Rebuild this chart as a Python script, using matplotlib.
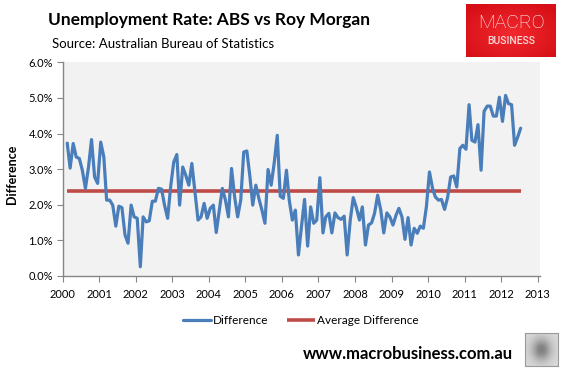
import matplotlib
matplotlib.use("Agg")
import matplotlib.pyplot as plt
from matplotlib.patches import Rectangle
from matplotlib.ticker import FuncFormatter
import numpy as np
import pandas as pd

# ---- data (monthly, Feb 2000 - Jul 2012), % difference ----
diff_2000_2003 = [3.73, 3.03, 3.72, 3.34, 3.30, 2.97, 2.46, 3.06, 3.83, 2.78, 2.60, 3.76,
                  3.34, 2.13, 2.13, 1.99, 1.40, 1.96, 1.92, 1.15, 0.92, 1.99, 1.66, 1.62,
                  0.26, 1.66, 1.52, 1.55, 2.10, 2.10, 2.46, 2.44, 1.99, 1.62, 2.50, 3.20,
                  3.41, 1.99, 3.06, 2.83, 2.55, 3.16, 2.36, 1.57, 1.66, 2.04, 1.62, 1.90]
diff_2004_2007 = [1.99, 1.22, 1.85, 2.46, 2.13, 1.66, 3.02, 2.22, 1.66, 2.13, 3.48, 3.51,
                  2.78, 1.99, 2.55, 2.18, 1.85, 1.48, 2.99, 2.55, 3.16, 3.95, 2.24, 2.18,
                  2.97, 2.13, 1.57, 1.85, 0.59, 1.38, 2.15, 0.84, 1.94, 1.48, 1.57, 2.76,
                  1.21, 1.66, 1.76, 1.21, 1.77, 1.64, 1.59, 1.68, 0.59, 1.57, 2.20, 1.92]
diff_2008_2012 = [1.57, 1.94, 0.87, 1.43, 1.49, 1.76, 2.27, 1.85, 1.21, 1.77, 1.66, 1.43,
                  1.71, 1.90, 1.66, 1.03, 1.64, 0.87, 1.34, 1.20, 1.40, 1.34, 1.94, 2.92,
                  2.46, 2.22, 2.13, 2.15, 1.87, 2.20, 2.78, 2.81, 2.50, 3.58, 3.67, 3.56,
                  4.81, 3.81, 3.76, 4.25, 2.97, 4.62, 4.77, 4.77, 4.49, 4.49, 5.02, 4.34,
                  5.07, 4.84, 4.81, 3.67, 3.90, 4.15]
difference = diff_2000_2003 + diff_2004_2007 + diff_2008_2012
average_difference = 2.40
first_month = "2000-02-01"
year_ticks = list(range(2000, 2014))
y_ticks = [0, 1, 2, 3, 4, 5, 6]

dates = pd.date_range(first_month, periods=len(difference), freq="MS") + pd.Timedelta(days=14)
avg_series = [average_difference] * len(difference)

FONT = ["Lato", "DejaVu Sans"]
plt.rcParams["font.family"] = FONT

fig = plt.figure(figsize=(5.62, 3.68), dpi=100)
fig.patch.set_facecolor("white")
ax = fig.add_axes([0.1116, 0.25, 0.8494, 0.5807])
ax.set_facecolor("#F2F2F2")

blue = "#4A7EBB"
red = "#BE4B48"
l1, = ax.plot(dates, difference, color=blue, lw=2.3, solid_joinstyle="round",
              solid_capstyle="round", label="Difference", zorder=3)
l2, = ax.plot(dates, avg_series, color=red, lw=2.6, solid_capstyle="butt",
              label="Average Difference", zorder=2)

ax.set_ylim(0, 6)
ax.set_yticks(y_ticks)
ax.yaxis.set_major_formatter(FuncFormatter(lambda v, p: f"{v:.1f}%"))
xt = [pd.Timestamp(f"{y}-01-01") for y in year_ticks]
ax.set_xticks(xt)
ax.set_xticklabels([str(y) for y in year_ticks])
ax.set_xlim(pd.Timestamp("2000-01-01"), pd.Timestamp("2013-01-25"))

for s in ["top", "right"]:
    ax.spines[s].set_visible(False)
for s in ["left", "bottom"]:
    ax.spines[s].set_color("#868686")
    ax.spines[s].set_linewidth(1.0)
ax.tick_params(axis="both", direction="out", length=4, color="#868686",
               labelsize=8, labelcolor="#000000", pad=3)
ax.tick_params(axis="x", pad=5)

fig.text(0.021, 0.525, "Difference", rotation=90, fontsize=9, fontweight="bold",
         ha="center", va="center", family=FONT)

fig.text(0.085, 0.945, "Unemployment Rate: ABS vs Roy Morgan", fontsize=12.5,
         fontweight="bold", ha="left", va="center", family=FONT)
fig.text(0.093, 0.88, "Source: Australian Bureau of Statistics", fontsize=9.5,
         ha="left", va="center", family=FONT)

# logo with soft radial gradient
lx0, ly0, lw, lh = 466 / 562, 1 - 57 / 368, 90 / 562, 53 / 368
lax = fig.add_axes([lx0, ly0, lw, lh])
lax.set_axis_off()
gy, gx = np.mgrid[-1:1:60j, -1:1:100j]
rr = np.clip(np.sqrt(gx ** 2 + (gy + 0.1) ** 2) / 1.3, 0, 1)
c_in = np.array([0.95, 0.16, 0.18])
c_out = np.array([0.84, 0.06, 0.09])
img = c_in[None, None, :] * (1 - rr[..., None]) + c_out[None, None, :] * rr[..., None]
lax.imshow(img, aspect="auto", extent=[0, 1, 0, 1], origin="lower")
lax.set_xlim(0, 1)
lax.set_ylim(0, 1)
lax.text(0.5, 0.64, "MACRO", color="white", fontsize=14, ha="center", va="center",
         family=["Roboto", "DejaVu Sans"], fontweight="light")
lax.text(0.5, 0.3, "BUSINESS", color="#F8DADA", fontsize=7.5, ha="center", va="center",
         family=["Roboto", "DejaVu Sans"], fontweight="medium")

leg = fig.legend(handles=[l1, l2], loc="center", bbox_to_anchor=(0.535, 1 - 321 / 368),
                 ncol=2, frameon=False, fontsize=8.5, handlelength=2.4,
                 columnspacing=1.6, handletextpad=0.15)

fig.text(0.913, 1 - 354 / 368, "www.macrobusiness.com.au", fontsize=12,
         fontweight="bold", ha="right", va="center", family=FONT)

# wolf badge placeholder
bx0, by0, bw, bh = 525 / 562, 1 - 366 / 368, 33 / 562, 33 / 368
bax = fig.add_axes([bx0, by0, bw, bh])
bax.set_xticks([])
bax.set_yticks([])
for s in bax.spines.values():
    s.set_color("#9A9A9A")
by, bxg = np.mgrid[-1:1:30j, -1:1:30j]
shade = 0.85 - 0.35 * np.exp(-((bxg / 0.6) ** 2 + (by / 0.7) ** 2))
bax.imshow(shade, cmap="gray", vmin=0, vmax=1, aspect="auto", extent=[0, 1, 0, 1])

fig.savefig("out.png", dpi=100, facecolor="white")
